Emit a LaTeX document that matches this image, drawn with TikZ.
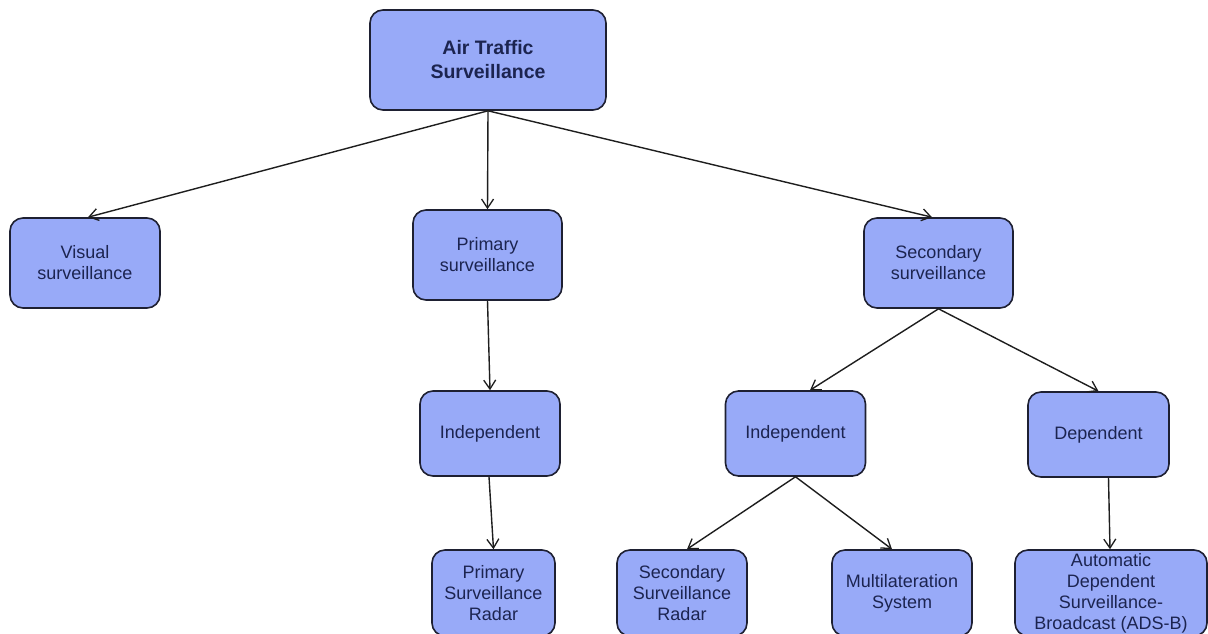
\documentclass[tikz,border=0pt]{standalone}
\usepackage{fontspec}
\setmainfont{Liberation Sans}
\usetikzlibrary{arrows.meta}
\definecolor{boxfill}{RGB}{152,170,248}
\definecolor{boxline}{RGB}{30,32,50}
\definecolor{boxtext}{RGB}{28,36,80}
\definecolor{arrowcol}{RGB}{30,30,30}
\tikzset{
  box/.style={draw=boxline, fill=boxfill, line width=1.6pt, rounded corners=13pt,
    align=center, text=boxtext, inner sep=0pt,
    font=\fontsize{18}{21}\selectfont},
  rootbox/.style={box, font=\fontsize{19.5}{24}\selectfont\bfseries},
  conn/.style={draw=arrowcol, line width=1.4pt, -{Straight Barb[length=9pt,width=12pt,line width=1.3pt]}}
}
\begin{document}
\begin{tikzpicture}[x=1pt,y=-1pt]
\useasboundingbox (0,0) rectangle (1208,633);
\clip (0,0) rectangle (1208,633);
\fill[white] (0,0) rectangle (1208,633);
\node[rootbox, minimum width=236pt, minimum height=100pt] (root) at (488,60) {Air Traffic\\Surveillance};
\node[box, minimum width=150pt, minimum height=90pt] (vis) at (85,263) {Visual\\surveillance};
\node[box, minimum width=149pt, minimum height=90pt] (prim) at (487.5,255) {Primary\\surveillance};
\node[box, minimum width=149pt, minimum height=90pt] (sec) at (938.5,263) {Secondary\\surveillance};
\node[box, minimum width=140pt, minimum height=85pt] (indL) at (490,433.5) {Independent};
\node[box, minimum width=140pt, minimum height=85pt] (indR) at (795.5,433.5) {Independent};
\node[box, minimum width=141pt, minimum height=85pt] (dep) at (1098.5,434.5) {Dependent};
\node[box, minimum width=123pt, minimum height=86pt] (psr) at (493.5,593) {Primary\\Surveillance\\Radar};
\node[box, minimum width=130pt, minimum height=86pt] (ssr) at (682,593) {Secondary\\Surveillance\\Radar};
\node[box, minimum width=140pt, minimum height=86pt] (mlat) at (902,593) {Multilateration\\System};
\node[box, minimum width=192pt, minimum height=86pt] (adsb) at (1111,593) {Automatic\\Dependent\\Surveillance-\\Broadcast (ADS-B)};
\draw[conn] (root.south) -- ([xshift=3pt]vis.north);
\draw[conn] (root.south) -- (prim.north);
\draw[conn] (root.south) -- ([xshift=-6.5pt]sec.north);
\draw[conn] (prim.south) -- ([xshift=0pt]indL.north);
\draw[conn] ([xshift=-1pt]indL.south) -- (psr.north);
\draw[conn] (sec.south) -- ([xshift=14.5pt]indR.north);
\draw[conn] (sec.south) -- (dep.north);
\draw[conn] (indR.south) -- ([xshift=5pt]ssr.north);
\draw[conn] (indR.south) -- ([xshift=-10pt]mlat.north);
\draw[conn] ([xshift=10pt]dep.south) -- ([xshift=-1pt]adsb.north);
\end{tikzpicture}
\end{document}
